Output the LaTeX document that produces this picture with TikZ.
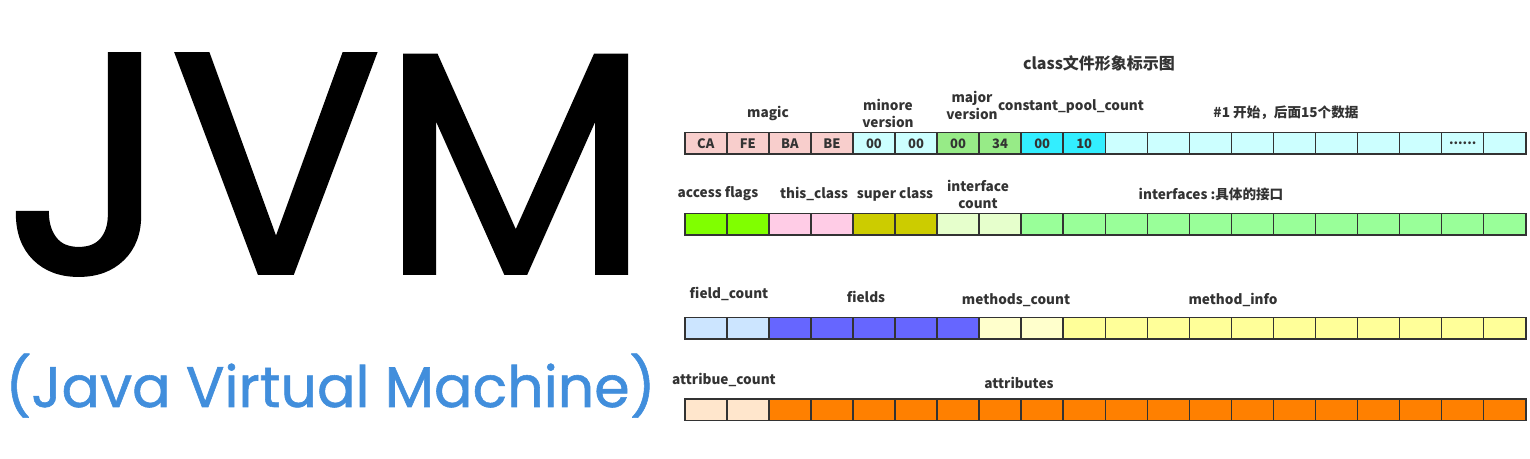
\documentclass[tikz,border=0pt]{standalone}
\usepackage{fontspec}
\newfontfamily\cjk{Noto Sans CJK SC}
\newfontfamily\poppins{Poppins}[FakeBold=1.5]
\newfontfamily\poppinssub{Poppins}[FakeBold=1]

\definecolor{framegray}{HTML}{333333}
\definecolor{magicpink}{HTML}{F8CECC}
\definecolor{palecyan}{HTML}{CCFFFF}
\definecolor{majorgreen}{HTML}{97EB87}
\definecolor{poolcyan}{HTML}{33EEFF}
\definecolor{flaggreen}{HTML}{80FF00}
\definecolor{classpink}{HTML}{FFCCE6}
\definecolor{superolive}{HTML}{CCCC00}
\definecolor{icountgreen}{HTML}{E6FFCC}
\definecolor{ifacegreen}{HTML}{99FF99}
\definecolor{fcountblue}{HTML}{CCE5FF}
\definecolor{fieldblue}{HTML}{6666FF}
\definecolor{mcountyellow}{HTML}{FFFFCC}
\definecolor{methodyellow}{HTML}{FFFF99}
\definecolor{acountpeach}{HTML}{FFE6CC}
\definecolor{attrorange}{HTML}{FF8000}
\definecolor{jvmblue}{HTML}{418EDC}

\newcommand\celldots{......}

\begin{document}
\begin{tikzpicture}[x=0.5pt,y=-0.5pt,
    cell/.style={draw=framegray,line width=0.75pt,minimum width=21.025pt,minimum height=10.75pt,
        inner sep=0pt,anchor=north west,text=framegray,font=\cjk\bfseries\fontsize{6.5}{7}\selectfont},
    lbl/.style={inner sep=0pt,align=center,text=framegray,font=\cjk\bfseries\fontsize{6.8}{8.5}\selectfont}]
    \fill[white] (0,0) rectangle (1530,459);
    \useasboundingbox (0,0) rectangle (1530,459);

    % left side: the name
    \node[anchor=south west,inner sep=0pt] (jvm) at (5,275) {\resizebox{322pt}{109pt}{\poppins JVM}};
    \node[anchor=base west,inner sep=0pt,text=jvmblue] (fullname) at (5,407)
        {\resizebox{325pt}{!}{\poppinssub (Java Virtual Machine)}};

    % title
    \node[lbl,font=\cjk\bfseries\fontsize{8}{9}\selectfont] (title) at (1099,63) {class文件形象标示图};

    % row 1
    \foreach \c/\col/\txt in {0/magicpink/CA,1/magicpink/FE,2/magicpink/BA,3/magicpink/BE,
        4/palecyan/00,5/palecyan/00,6/majorgreen/00,7/majorgreen/34,8/poolcyan/00,9/poolcyan/10,
        10/palecyan/{},11/palecyan/{},12/palecyan/{},13/palecyan/{},14/palecyan/{},
        15/palecyan/{},16/palecyan/{},17/palecyan/{},18/palecyan/\celldots,19/palecyan/{}}
        \node[cell,fill=\col] (a\c) at ({684+42.05*\c},132) {\txt};

    \node[lbl] (magic) at (768,113) {magic};
    \node[lbl] (minor) at (888,113) {minore\\version};
    \node[lbl] (major) at (972,105) {major\\version};
    \node[lbl] (cpcount) at (1071,106) {constant\_pool\_count};
    \node[lbl] (cpool) at (1286,113) {\#1 开始，后面15个数据};

    % row 2
    \foreach \from/\to/\col in {0/1/flaggreen,2/3/classpink,4/5/superolive,6/7/icountgreen,8/19/ifacegreen}
        \foreach \c in {\from,...,\to}
            \node[cell,fill=\col] (b\c) at ({684+42.05*\c},213) {};

    \node[lbl] (access) at (718,194) {access flags};
    \node[lbl] (this) at (814,194) {this\_class};
    \node[lbl] (super) at (895,194) {super class};
    \node[lbl] (icount) at (978,194.5) {interface\\count};
    \node[lbl] (ifaces) at (1211,194) {interfaces :具体的接口};

    % row 3
    \foreach \from/\to/\col in {0/1/fcountblue,2/6/fieldblue,7/8/mcountyellow,9/19/methodyellow}
        \foreach \c in {\from,...,\to}
            \node[cell,fill=\col] (c\c) at ({684+42.05*\c},317) {};

    \node[lbl] (fcount) at (729,294) {field\_count};
    \node[lbl] (fields) at (866,297) {fields};
    \node[lbl] (mcount) at (1016,300) {methods\_count};
    \node[lbl] (minfo) at (1233,300) {method\_info};

    % row 4
    \foreach \from/\to/\col in {0/1/acountpeach,2/19/attrorange}
        \foreach \c in {\from,...,\to}
            \node[cell,fill=\col] (d\c) at ({684+42.05*\c},398) {};

    \node[lbl] (acount) at (724,380) {attribue\_count};
    \node[lbl] (attrs) at (1019,383) {attributes};
\end{tikzpicture}
\end{document}
